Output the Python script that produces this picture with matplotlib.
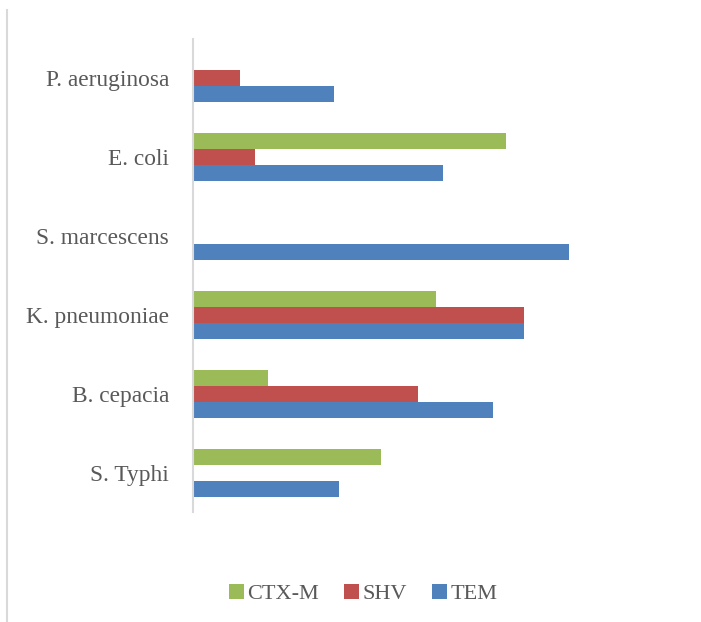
import numpy as np
import matplotlib
matplotlib.use("Agg")
import matplotlib.pyplot as plt
from matplotlib.lines import Line2D
from matplotlib.patches import Patch

# Organisms, listed bottom to top
organisms = ["S. Typhi", "B. cepacia", "K. pneumoniae",
             "S. marcescens", "E. coli", "P. aeruginosa"]
ctx_m = [50.0, 20.0, 64.7, 0.0, 83.3, 0.0]
shv = [0.0, 60.0, 88.2, 0.0, 16.7, 12.5]
tem = [38.9, 80.0, 88.2, 100.0, 66.7, 37.5]

series_names = ["CTX-M", "SHV", "TEM"]
colors = ["#9BBB59", "#C0504D", "#4F81BD"]

plt.rcParams["font.family"] = ["Liberation Serif", "DejaVu Serif"]

W, H = 701, 622
fig = plt.figure(figsize=(W / 100, H / 100), dpi=100)

# plot area in pixel coordinates
left_px, right_px = 192.5, 644.0
top_px, bottom_px = 38.5, 512.0
ax = fig.add_axes([left_px / W, 1 - bottom_px / H,
                   (right_px - left_px) / W, (bottom_px - top_px) / H])

y = np.arange(len(organisms))
h = 0.203
for vals, off, c in zip([ctx_m, shv, tem], [h, 0.0, -h], colors):
    ax.barh(y + off, vals, height=h, color=c, linewidth=0, left=0)

ax.set_xlim(0, (right_px - left_px) / 376.0 * 100)
ax.set_ylim(-0.5, len(organisms) - 0.5)
ax.set_yticks(y)
ax.set_yticklabels(organisms, fontsize=16.8, color="#595959")
ax.tick_params(axis="y", length=0, pad=17)
ax.set_xticks([])
for side in ["top", "right", "bottom"]:
    ax.spines[side].set_visible(False)
ax.spines["left"].set_color("#D9D9D9")
ax.spines["left"].set_linewidth(1.5)

# outer chart frame (left edge)
fig.add_artist(Line2D([6.5 / W, 6.5 / W], [0, 1 - 10 / H],
                      transform=fig.transFigure, color="#D9D9D9", lw=1.5))

handles = [Patch(facecolor=c, edgecolor="none") for c in colors]
fig.legend(handles, series_names, loc="center", ncol=3,
           bbox_to_anchor=(363 / W, 1 - 594 / H), frameon=False,
           fontsize=16, labelcolor="#595959",
           handlelength=0.7, handleheight=0.7, handletextpad=0.15,
           columnspacing=1.1)

fig.savefig("out.png", dpi=100, facecolor="white")
